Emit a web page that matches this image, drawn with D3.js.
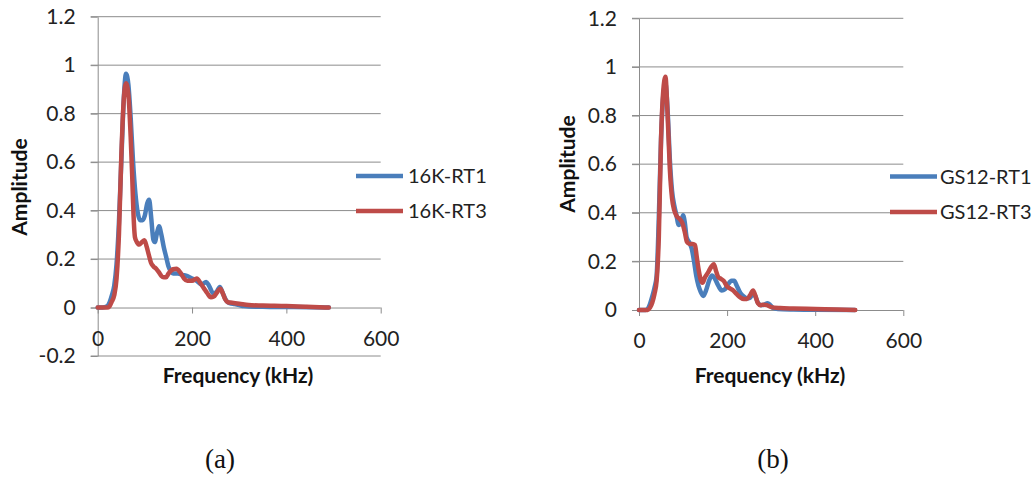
<!DOCTYPE html>
<html>
<head>
<meta charset="utf-8">
<script src="https://cdn.jsdelivr.net/npm/d3@7"></script>
<style>
  html, body { margin: 0; padding: 0; background: #fff; }
  svg { display: block; }
  .tick text { font-family: Lato, "Open Sans", sans-serif; font-size: 21px; fill: #222; }
  .title { font-family: Lato, "Open Sans", sans-serif; font-size: 21px; font-weight: bold; fill: #111; }
  .legend { font-family: Lato, "Open Sans", sans-serif; font-size: 20px; fill: #222; }
  .caption { font-family: "Liberation Serif", "Times New Roman", serif; font-size: 27px; fill: #111; }
</style>
</head>
<body>
<svg id="chart" width="1034" height="481"></svg>
<script>
// ---- Panel (a): 16K specimens ----
const freqA1 = [0, 10, 20, 25, 30, 35, 40, 45, 50, 55, 60, 65, 70, 75, 80, 85, 90, 95, 100, 105, 109, 113, 118, 121, 126, 130, 135, 140, 145, 150, 155, 160, 170, 180, 190, 200, 210, 220, 230, 236, 245, 252, 259, 265, 272, 280, 290, 300, 310, 320, 350, 400, 450, 490];
const ampA1  = [0, 0, 0.005, 0.02, 0.05, 0.09, 0.18, 0.35, 0.6, 0.85, 0.965, 0.92, 0.78, 0.6, 0.47, 0.39, 0.36, 0.36, 0.38, 0.43, 0.445, 0.38, 0.28, 0.27, 0.31, 0.335, 0.3, 0.25, 0.21, 0.17, 0.15, 0.14, 0.14, 0.135, 0.13, 0.12, 0.11, 0.095, 0.105, 0.09, 0.058, 0.065, 0.085, 0.06, 0.03, 0.018, 0.014, 0.01, 0.006, 0.004, 0.003, 0.002, 0.001, 0];

const freqA3 = [0, 20, 25, 30, 35, 40, 45, 50, 55, 60, 65, 70, 73, 76, 79, 83, 88, 94, 99, 104, 108, 113, 118, 124, 130, 135, 140, 145, 150, 160, 167, 175, 183, 190, 200, 210, 218, 225, 232, 240, 246, 252, 260, 265, 270, 276, 285, 300, 320, 350, 400, 440, 470, 490];
const ampA3  = [0, 0, 0.005, 0.025, 0.05, 0.12, 0.3, 0.62, 0.85, 0.925, 0.88, 0.7, 0.55, 0.38, 0.29, 0.27, 0.26, 0.27, 0.278, 0.25, 0.22, 0.185, 0.17, 0.16, 0.145, 0.13, 0.125, 0.125, 0.14, 0.158, 0.16, 0.145, 0.12, 0.11, 0.11, 0.12, 0.1, 0.08, 0.06, 0.042, 0.045, 0.06, 0.078, 0.06, 0.035, 0.022, 0.02, 0.016, 0.01, 0.008, 0.006, 0.003, 0.001, 0];

// ---- Panel (b): GS12 specimens ----
const freqB1 = [0, 15, 20, 25, 30, 35, 40, 45, 50, 55, 60, 65, 70, 75, 80, 85, 90, 95, 100, 104, 108, 115, 120, 125, 130, 135, 140, 146, 152, 160, 166, 172, 180, 188, 195, 202, 210, 216, 222, 230, 238, 245, 252, 258, 263, 270, 278, 285, 292, 298, 305, 315, 350, 400, 490];
const ampB1  = [0, 0, 0.005, 0.025, 0.055, 0.09, 0.14, 0.38, 0.7, 0.88, 0.93, 0.82, 0.62, 0.49, 0.43, 0.39, 0.35, 0.36, 0.39, 0.36, 0.3, 0.275, 0.25, 0.2, 0.14, 0.1, 0.075, 0.058, 0.08, 0.125, 0.142, 0.13, 0.1, 0.08, 0.085, 0.105, 0.12, 0.12, 0.1, 0.07, 0.055, 0.048, 0.05, 0.065, 0.06, 0.03, 0.02, 0.022, 0.028, 0.02, 0.008, 0.004, 0.002, 0.001, 0];

const freqB3 = [0, 20, 25, 30, 35, 40, 45, 50, 55, 60, 65, 70, 75, 80, 86, 92, 98, 104, 109, 115, 122, 127, 131, 135, 140, 144, 150, 157, 165, 170, 175, 180, 186, 192, 200, 207, 214, 222, 230, 238, 245, 252, 259, 264, 270, 276, 282, 290, 300, 320, 350, 400, 450, 491];
const ampB3  = [0, 0, 0.01, 0.03, 0.065, 0.12, 0.3, 0.7, 0.9, 0.96, 0.8, 0.58, 0.46, 0.41, 0.385, 0.375, 0.36, 0.32, 0.28, 0.272, 0.272, 0.268, 0.22, 0.17, 0.125, 0.112, 0.135, 0.155, 0.18, 0.188, 0.16, 0.135, 0.128, 0.12, 0.097, 0.088, 0.08, 0.065, 0.052, 0.045, 0.045, 0.06, 0.08, 0.06, 0.028, 0.02, 0.022, 0.02, 0.012, 0.008, 0.006, 0.004, 0.002, 0];

// Axis tick values
const xTicks = [0, 200, 400, 600];
const yTicksA = [-0.2, 0, 0.2, 0.4, 0.6, 0.8, 1, 1.2];
const yTicksB = [0, 0.2, 0.4, 0.6, 0.8, 1, 1.2];

// Series names
const namesA = ["16K-RT1", "16K-RT3"];
const namesB = ["GS12-RT1", "GS12-RT3"];

const COLORS = ["#4A7EBB", "#BE4B48"];
const GRID = "#8c8c8c";

const svg = d3.select("#chart");

function zip(fs, as) { return fs.map((f, i) => ({ f, a: as[i] })); }

function panel(opt) {
  const g = svg.append("g");
  const x = d3.scaleLinear().domain([0, 600]).range(opt.xRange);
  const y = d3.scaleLinear().domain(opt.yDomain).range(opt.yRange);

  // horizontal gridlines (with the short left tick stub)
  g.append("g").selectAll("line")
    .data(opt.yTicks.filter(v => v !== 0))
    .join("line")
    .attr("x1", x(0) - 7).attr("x2", x(600))
    .attr("y1", d => y(d)).attr("y2", d => y(d))
    .attr("stroke", GRID).attr("stroke-width", 1);

  // y axis (plain hyphen for negatives)
  const yAxis = g.append("g")
    .attr("transform", `translate(${x(0)},0)`)
    .call(d3.axisLeft(y).tickValues(opt.yTicks).tickSize(7).tickSizeOuter(0).tickPadding(15)
      .tickFormat(d => String(Math.round(d * 10) / 10)));
  yAxis.select(".domain").attr("stroke", GRID);
  yAxis.selectAll(".tick line").attr("stroke", GRID);

  // x axis through y = 0
  const xAxis = g.append("g")
    .attr("transform", `translate(0,${y(0)})`)
    .call(d3.axisBottom(x).tickValues(xTicks).tickSize(6).tickSizeOuter(0).tickPadding(opt.xPad));
  xAxis.select(".domain").attr("stroke", GRID).attr("d", `M${x(0) - 7},0.5H${x(600)}`);
  xAxis.selectAll(".tick line").attr("stroke", GRID);

  // series lines
  const line = d3.line().x(d => x(d.f)).y(d => y(d.a)).curve(d3.curveMonotoneX);
  opt.series.forEach((s, i) => {
    g.append("path")
      .datum(zip(s.f, s.a))
      .attr("d", line)
      .attr("fill", "none")
      .attr("stroke", COLORS[i])
      .attr("stroke-width", 4.5)
      .attr("stroke-linejoin", "round")
      .attr("stroke-linecap", "round");
  });

  // axis titles
  g.append("text").attr("class", "title")
    .attr("text-anchor", "middle")
    .attr("x", opt.xTitle[0]).attr("y", opt.xTitle[1])
    .text("Frequency (kHz)");
  g.append("text").attr("class", "title")
    .attr("text-anchor", "middle")
    .attr("transform", `translate(${opt.yTitle[0]},${opt.yTitle[1]}) rotate(-90)`)
    .text("Amplitude");

  // legend
  opt.names.forEach((n, i) => {
    const ly = opt.legend.y[i];
    g.append("line")
      .attr("x1", opt.legend.x1).attr("x2", opt.legend.x2)
      .attr("y1", ly).attr("y2", ly)
      .attr("stroke", COLORS[i]).attr("stroke-width", 4.5);
    g.append("text").attr("class", "legend")
      .attr("x", opt.legend.tx).attr("y", ly + 7)
      .text(n);
  });

  // caption
  g.append("text").attr("class", "caption")
    .attr("text-anchor", "middle")
    .attr("x", opt.caption[0]).attr("y", opt.caption[1])
    .text(opt.captionText);
}

panel({
  xRange: [97.7, 380.7],
  yDomain: [-0.2, 1.2], yRange: [356, 16.7],
  yTicks: yTicksA, xPad: 18,
  series: [{ f: freqA1, a: ampA1 }, { f: freqA3, a: ampA3 }],
  names: namesA,
  xTitle: [238, 383], yTitle: [27, 187],
  legend: { x1: 356, x2: 403, tx: 408, y: [176, 211] },
  caption: [220, 468], captionText: "(a)"
});

panel({
  xRange: [639, 903.3],
  yDomain: [0, 1.2], yRange: [310, 18.3],
  yTicks: yTicksB, xPad: 17,
  series: [{ f: freqB1, a: ampB1 }, { f: freqB3, a: ampB3 }],
  names: namesB,
  xTitle: [770, 383], yTitle: [575, 164],
  legend: { x1: 890, x2: 937, tx: 940, y: [176.5, 212] },
  caption: [773, 468], captionText: "(b)"
});
</script>
</body>
</html>
